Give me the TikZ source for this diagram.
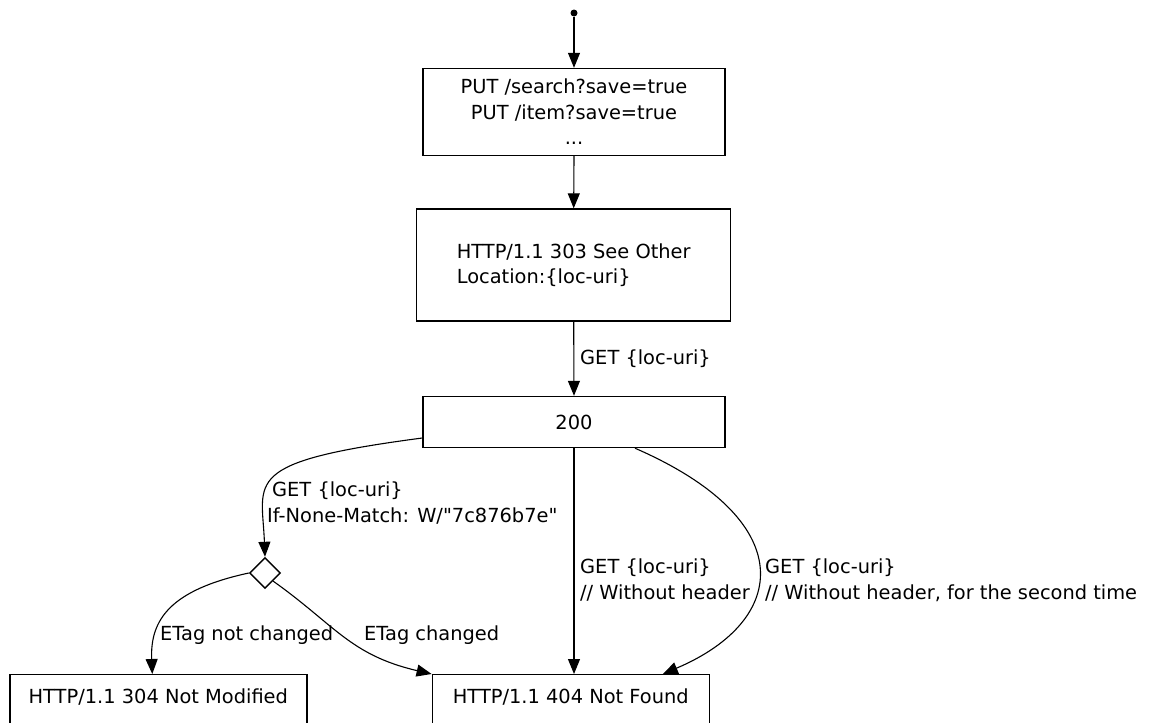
\documentclass[tikz,border=0pt]{standalone}
\usepackage{fontspec}
% TeXOff so the " stays a straight quote
\setmainfont{DejaVu Sans}[Ligatures=TeXOff]
\usetikzlibrary{arrows.meta, shapes.geometric}

\newcommand{\flowfont}{\fontsize{19.4}{25.5}\selectfont}

\tikzset{
    box/.style={draw, line width=1.4pt, inner sep=0pt, font=\flowfont},
    flow/.style={line width=1.1pt, -{Triangle[length=15pt, width=12pt]}},
    lbl/.style={inner sep=0pt, align=left, anchor=base west, font=\flowfont}
}

\begin{document}
\begin{tikzpicture}[x=1pt, y=-1pt]
        % I use x=1pt and y=-1pt so the numbers are like pixels counted from the top left
        \useasboundingbox (0,0) rectangle (1149,723);

        % the start point, a small filled circle
        \node[circle, fill, inner sep=0pt, minimum size=7pt] (start) at (574,13) {};

        % the boxes of the flow
        \node[box, minimum width=302pt, minimum height=87pt, align=center] (put) at (574,112)
            {PUT /search?save=true\\PUT /item?save=true\\...};
        \node[box, minimum width=314pt, minimum height=112pt, align=left] (see) at (573.7,265)
            {HTTP/1.1 303 See Other\\Location:\{loc-uri\}};
        \node[box, minimum width=302pt, minimum height=51pt] (ok) at (574,422) {200};

        % the decision diamond (needs shapes.geometric)
        \node[box, diamond, minimum width=31pt, minimum height=31pt] (etag) at (265,573) {};

        % the two boxes at the bottom are cut off by the page, so I give them
        % a big text depth and anchor them at the top
        \node[box, anchor=north, minimum width=297pt, text height=29pt, text depth=40pt] (nm) at (158.3,674)
            {HTTP/1.1 304 Not Modified};
        \node[box, anchor=north, minimum width=277pt, text height=29pt, text depth=40pt] (nf) at (570.8,674)
            {HTTP/1.1 404 Not Found};

        % straight connectors
        \draw[flow] (start) -- (put);
        \draw[flow] (put.south) -- (see.north);
        \draw[flow] (see.south) -- (ok.north);
        \draw[flow] (ok.south) -- (ok.south |- nf.north);

        % the curved ones, the control points are just found by trying
        \draw[flow] ([yshift=-16pt]ok.west) .. controls (240,462) and (262,480) .. (etag.north);
        \draw[flow] (etag.west) .. controls (170,590) and (150,620) .. ([xshift=-6pt]nm.north);
        \draw[flow] (etag.south east) .. controls (335,625) and (350,655) .. (nf.north west);
        \draw[flow] ([xshift=61pt]ok.south) .. controls (800,520) and (790,620) .. ([xshift=92pt]nf.north);

        % labels of the connectors
        % with two lines the base anchor is not on the first line, so these
        % coordinates are just moved down until they sit right
        \node[lbl] (getloc) at (580,364) {GET \{loc-uri\}};
        \node[lbl] (getmatch) at (267,522) {\hspace*{5pt}GET \{loc-uri\}\\If-None-Match: W/"7c876b7e"};
        \node[lbl] (getnohead) at (580,599) {GET \{loc-uri\}\\// Without header};
        \node[lbl] (getsecond) at (765,599) {GET \{loc-uri\}\\// Without header, for the second time};
        \node[lbl] (notchanged) at (160,640) {ETag not changed};
        \node[lbl] (changed) at (364,640) {ETag changed};
\end{tikzpicture}
\end{document}
